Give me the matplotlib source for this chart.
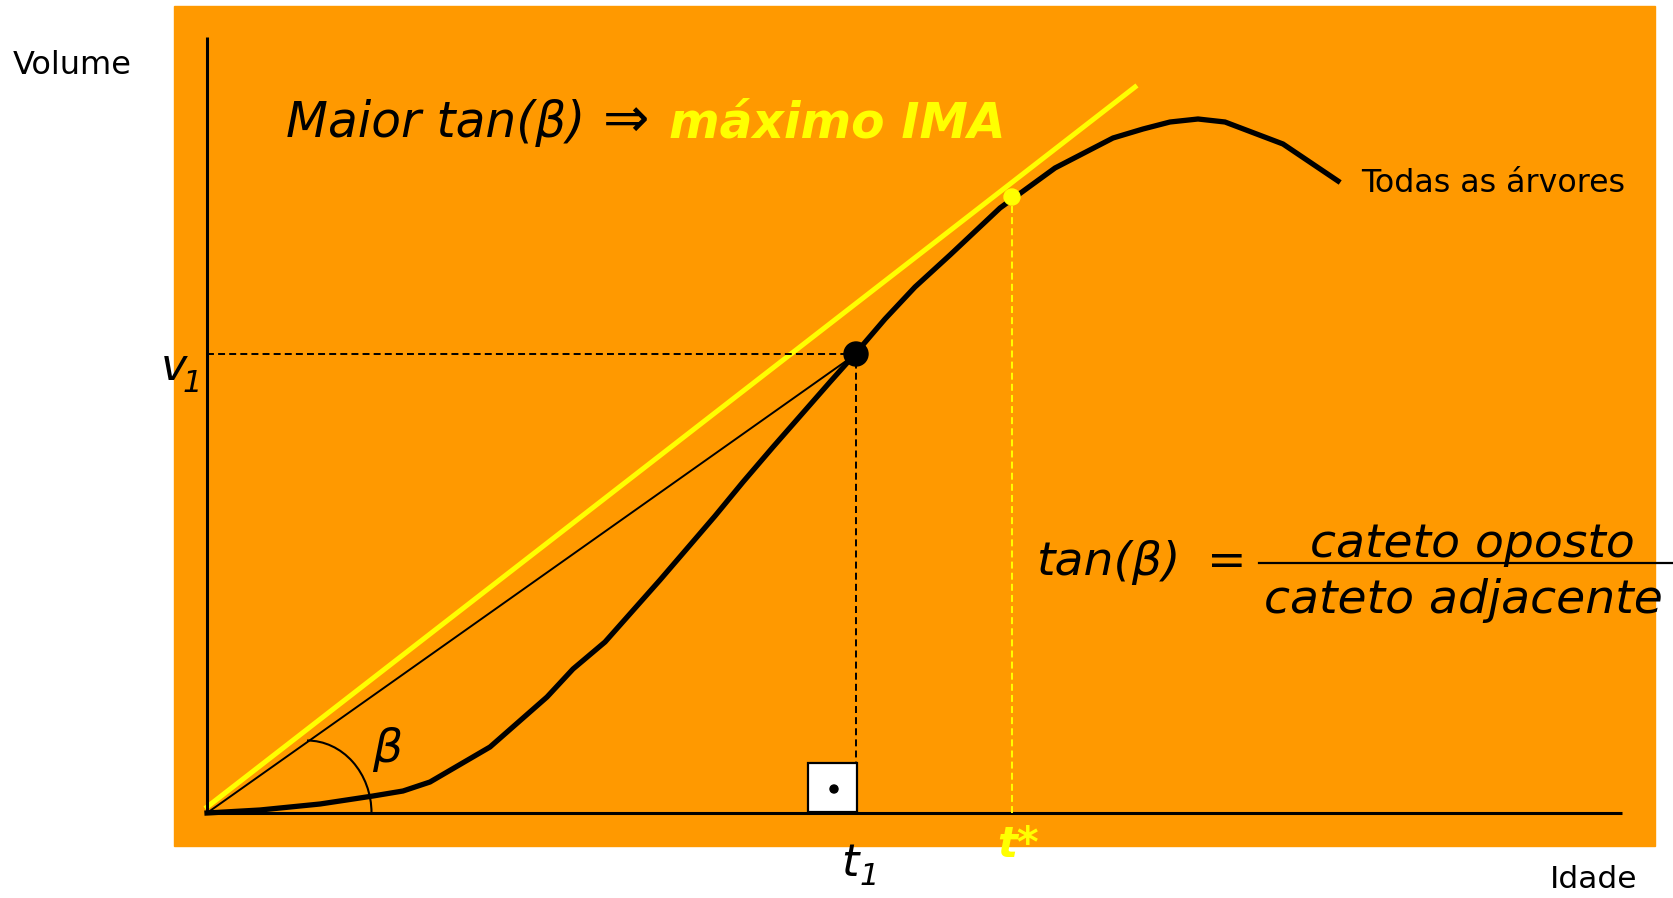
import matplotlib.pyplot as plt
from matplotlib.patches import Rectangle, Arc, Circle

plt.rcParams['font.family'] = ['DejaVu Sans']
plt.rcParams['lines.scale_dashes'] = False

LARANJA = '#FF9900'
AMARELO = '#FFFF00'

# curva de volume (todas as arvores) - idade x volume
idade = [0, 5.3, 11.3, 16.6, 19.6, 22.3, 28.3, 34.0, 36.6, 39.8, 45.3, 50.8,
         53.6, 56.6, 62.3, 64.8, 67.8, 70.8, 74.3, 79.3, 84.8, 90.6, 93.6,
         96.3, 99.1, 101.8, 107.6, 113.1]
volume = [0, 0.3, 0.9, 1.7, 2.2, 3.1, 6.6, 11.6, 14.4, 17.1, 23.3, 29.7,
          33.1, 36.6, 43.1, 45.9, 49.4, 52.6, 55.8, 60.5, 64.5, 67.5, 68.4,
          69.1, 69.4, 69.1, 66.9, 63.2]

t1, v1 = 64.9, 45.9
t_star, v_star = 80.5, 61.6
tangente_x = [0, 92.8]
tangente_y = [0.6, 72.6]
x_max, y_max = 141.5, 77.6

fig = plt.figure(figsize=(16.73, 8.98), dpi=100)
ax = fig.add_axes([0, 0, 1, 1])
ax.set_xlim(-20.7, 146.6)
ax.set_ylim(-8.5, 81.3)
ax.axis('off')

ax.add_patch(Rectangle((-3.3, -3.3), 148.1, 84.0, color=LARANJA, zorder=0))

# eixos
ax.plot([0, 0], [0, y_max], color='black', lw=2.2, solid_capstyle='butt', zorder=3)
ax.plot([0, x_max], [0, 0], color='black', lw=2.2, solid_capstyle='butt', zorder=3)

# retas
ax.plot(tangente_x, tangente_y, color=AMARELO, lw=3.6, zorder=2)
ax.plot([0, t1], [0, v1], color='black', lw=1.4, zorder=2)
ax.plot(idade, volume, color='black', lw=3.8, solid_joinstyle='miter', zorder=4)

# linhas tracejadas
ax.plot([0, t1], [v1, v1], color='black', lw=1.4, dashes=(5, 3), zorder=3)
ax.plot([t1, t1], [0, v1], color='black', lw=1.4, dashes=(5, 3), zorder=3)
ax.plot([t_star, t_star], [0, v_star], color=AMARELO, lw=1.4, dashes=(5, 3), zorder=3)

ax.add_patch(Circle((t1, v1), 1.2, color='black', zorder=5))
ax.add_patch(Circle((t_star, v_star), 0.8, color=AMARELO, zorder=5))

# angulo reto
ax.add_patch(Rectangle((60.1, 0.1), 4.9, 4.9, facecolor='white', edgecolor='black',
                       lw=1.6, zorder=5))
ax.add_patch(Circle((62.7, 2.4), 0.4, color='black', zorder=6))

# arco do angulo beta
ax.add_patch(Arc((10.0, 0), 12.9, 14.5, theta1=0, theta2=90, color='black', lw=1.5, zorder=3))
ax.text(18.0, 6.3, 'β', fontsize=34, style='italic', ha='center', va='center')

# textos
ax.text(-19.4, 74.7, 'Volume', fontsize=23, ha='left', va='center')
ax.text(134.3, -6.7, 'Idade', fontsize=22.5, ha='left', va='center')
ax.text(115.4, 62.9, 'Todas as árvores', fontsize=22.8, ha='left', va='center')

ax.text(7.9, 67.6, 'Maior tan(β)', fontsize=35, style='italic', ha='left', va='baseline')
ax.text(39.6, 67.6, '⇒', fontsize=40, ha='left', va='baseline')
ax.text(46.2, 67.6, 'máximo IMA', fontsize=35, style='italic', weight='bold',
        color=AMARELO, ha='left', va='baseline')

ax.text(-4.6, 43.3, 'v', fontsize=32, style='italic', ha='left', va='baseline')
ax.text(-2.4, 42.1, '1', fontsize=22, style='italic', ha='left', va='baseline')
ax.text(63.4, -6.3, 't', fontsize=32, style='italic', ha='left', va='baseline')
ax.text(65.3, -7.2, '1', fontsize=22, style='italic', ha='left', va='baseline')
ax.text(79.0, -4.4, 't*', fontsize=30, style='italic', weight='bold', color=AMARELO,
        ha='left', va='baseline')

ax.text(83.0, 23.8, 'tan(β)', fontsize=34, style='italic', ha='left', va='baseline')
ax.text(100.0, 23.8, '=', fontsize=34, ha='left', va='baseline')
ax.plot([105.2, 146.6], [25.0, 25.0], color='black', lw=1.6, zorder=3)
ax.text(110.3, 25.6, 'cateto oposto', fontsize=34, style='italic', ha='left', va='baseline')
ax.text(105.7, 20.0, 'cateto adjacente', fontsize=34, style='italic', ha='left', va='baseline')

fig.savefig('out.png', dpi=100)
